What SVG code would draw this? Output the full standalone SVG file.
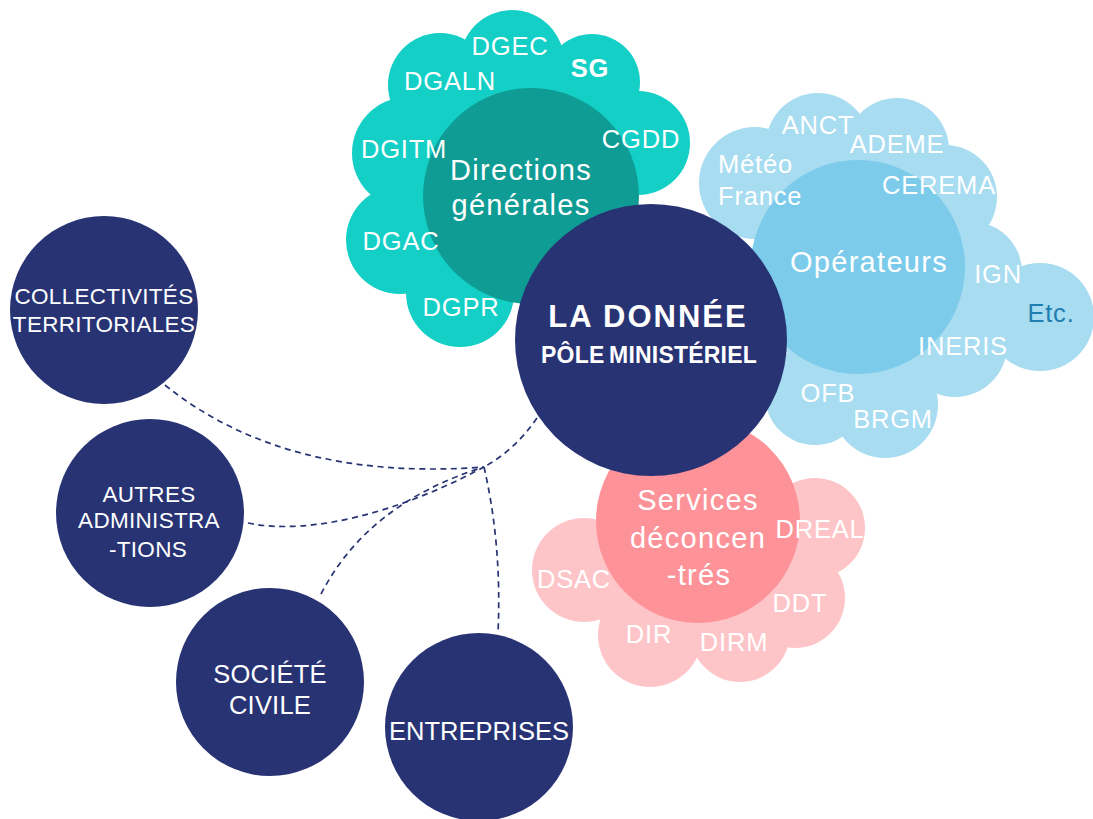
<svg xmlns="http://www.w3.org/2000/svg" width="1093" height="819" viewBox="0 0 1093 819">
<style>
.navy{fill:#283374}
.tealo{fill:#13cfc6}
.teali{fill:#0f9c94}
.blueo{fill:#a7dcf1}
.bluei{fill:#7ccbeb}
.pinko{fill:#fec5c8}
.pinki{fill:#fd9399}
text{font-family:"Liberation Sans",Arial,sans-serif;fill:#fff;text-anchor:middle}
.lab{font-size:25.5px;letter-spacing:0.8px}
.big{font-size:29px;letter-spacing:1.3px}
.side{font-size:22.5px;letter-spacing:0.3px}
.side2{font-size:25.5px;letter-spacing:0.2px}
.conn{fill:none;stroke:#283374;stroke-width:1.7;stroke-dasharray:6 4.5}
</style>
<rect width="1093" height="819" fill="#fff"/>
<g id="connectors">
<path class="conn" d="M537,418 Q515,450 484,467"/>
<path class="conn" d="M165,385 Q285,482 484,467"/>
<path class="conn" d="M248,523 C310,536 400,512 484,467"/>
<path class="conn" d="M321,594 Q368,503 484,467"/>
<path class="conn" d="M484,467 Q502,545 498,633"/>
</g>
<g id="directions-generales">
<g class="tealo">
<circle cx="512" cy="62" r="52"/>
<circle cx="592" cy="82" r="48"/>
<circle cx="638" cy="143" r="52"/>
<circle cx="440" cy="85" r="52"/>
<circle cx="408" cy="153" r="56"/>
<circle cx="400" cy="240" r="54"/>
<circle cx="460" cy="293" r="54"/>
<circle cx="520" cy="180" r="110"/>
</g>
<circle class="teali" cx="531" cy="196" r="108"/>
<text class="lab" x="510" y="55">DGEC</text>
<text class="lab" x="590" y="77" font-weight="bold">SG</text>
<text class="lab" x="450" y="90">DGALN</text>
<text class="lab" x="641" y="148">CGDD</text>
<text class="lab" x="404" y="158">DGITM</text>
<text class="big" x="521" y="180">Directions</text>
<text class="big" x="521" y="215">générales</text>
<text class="lab" x="401" y="250">DGAC</text>
<text class="lab" x="461" y="316">DGPR</text>
</g>
<g id="operateurs">
<g class="blueo">
<circle cx="755" cy="183" r="56"/>
<circle cx="818" cy="145" r="52"/>
<circle cx="897" cy="150" r="52"/>
<circle cx="945" cy="197" r="52"/>
<circle cx="972" cy="272" r="50"/>
<circle cx="1040" cy="317" r="54"/>
<circle cx="955" cy="345" r="52"/>
<circle cx="885" cy="405" r="53"/>
<circle cx="815" cy="395" r="50"/>
<circle cx="860" cy="270" r="110"/>
</g>
<circle class="bluei" cx="858" cy="267" r="107"/>
<text class="lab" x="818" y="134">ANCT</text>
<text class="lab" x="897" y="153">ADEME</text>
<text class="lab" x="718" y="173" style="text-anchor:start">Météo</text>
<text class="lab" x="718" y="205" style="text-anchor:start">France</text>
<text class="lab" x="939" y="194">CEREMA</text>
<text class="big" x="869" y="272">Opérateurs</text>
<text class="lab" x="998" y="283">IGN</text>
<text class="lab" x="1051" y="322" style="fill:#1f7fae">Etc.</text>
<text class="lab" x="963" y="355">INERIS</text>
<text class="lab" x="828" y="402">OFB</text>
<text class="lab" x="893" y="428">BRGM</text>
</g>
<g id="services-deconcentres">
<g class="pinko">
<circle cx="584" cy="570" r="52"/>
<circle cx="650" cy="635" r="52"/>
<circle cx="740" cy="632" r="50"/>
<circle cx="795" cy="598" r="50"/>
<circle cx="815" cy="528" r="50"/>
<circle cx="700" cy="570" r="80"/>
</g>
<circle class="pinki" cx="698" cy="521" r="102"/>
<text class="big" x="698" y="510">Services</text>
<text class="big" x="698" y="548">déconcen</text>
<text class="big" x="699" y="585">-trés</text>
<text class="lab" x="820" y="538">DREAL</text>
<text class="lab" x="574" y="588">DSAC</text>
<text class="lab" x="800" y="612">DDT</text>
<text class="lab" x="649" y="643">DIR</text>
<text class="lab" x="734" y="651">DIRM</text>
</g>
<g id="la-donnee">
<circle class="navy" cx="651" cy="340" r="136"/>
<text x="648" y="327" font-weight="bold" font-size="31" letter-spacing="2">LA DONNÉE</text>
<text x="649" y="363" font-weight="bold" font-size="23" letter-spacing="0.2" word-spacing="-2">PÔLE MINISTÉRIEL</text>
</g>
<g id="collectivites">
<circle class="navy" cx="104" cy="310" r="94"/>
<text class="side" x="104" y="304">COLLECTIVITÉS</text>
<text class="side" x="104" y="332">TERRITORIALES</text>
</g>
<g id="autres-administrations">
<circle class="navy" cx="150" cy="513" r="94"/>
<text class="side" x="149" y="502">AUTRES</text>
<text class="side" x="149" y="528">ADMINISTRA</text>
<text class="side" x="148" y="557">-TIONS</text>
</g>
<g id="societe-civile">
<circle class="navy" cx="270" cy="682" r="94"/>
<text class="side2" x="270" y="683">SOCIÉTÉ</text>
<text class="side2" x="270" y="714">CIVILE</text>
</g>
<g id="entreprises">
<circle class="navy" cx="479" cy="727" r="94"/>
<text class="side2" x="479" y="740" style="letter-spacing:0">ENTREPRISES</text>
</g>
</svg>
